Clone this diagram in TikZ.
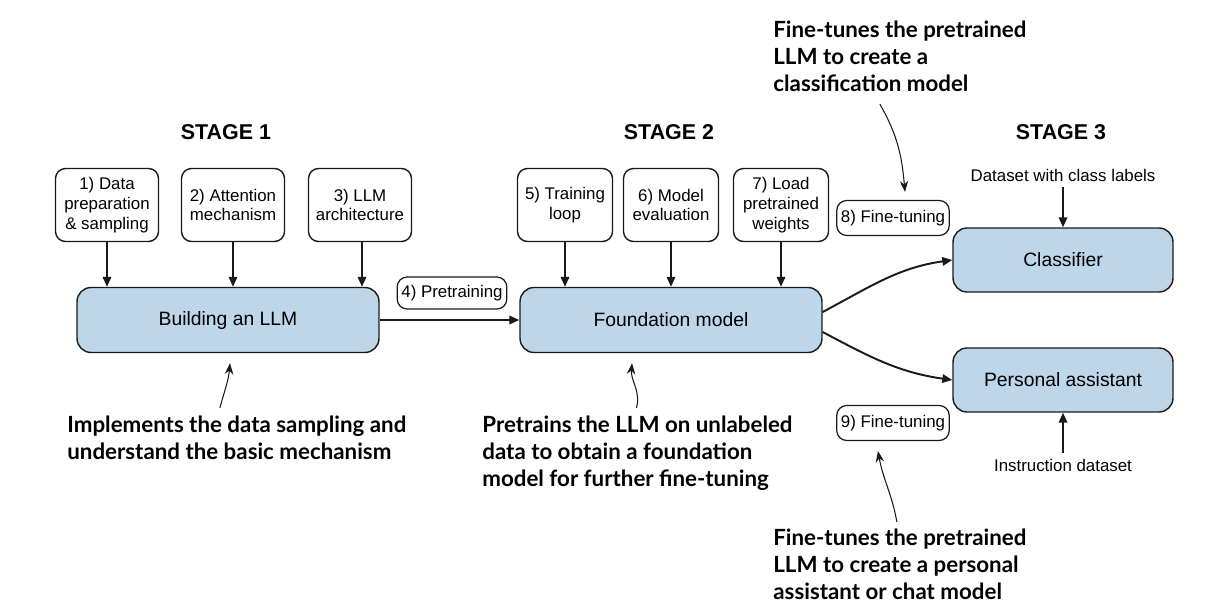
\documentclass[tikz,border=0pt]{standalone}
\usepackage{fontspec}
\setmainfont{Liberation Sans}
\newfontfamily\notefamily{Lato}
\usetikzlibrary{arrows.meta,positioning}
\definecolor{ink}{HTML}{1A1A1A}
\definecolor{modelfill}{HTML}{BED6E9}
\newcommand\boxfont{\fontsize{9.6}{11.2}\selectfont}
\newcommand\modelfont{\fontsize{11}{13}\selectfont}
\newcommand\notefont{\notefamily\bfseries\fontsize{12.7}{15.3}\selectfont}
\tikzset{
  stepcard/.style={draw=ink,fill=white,line width=0.8pt,rounded corners=0.2cm,
                   minimum width=2.06cm,minimum height=1.46cm,
                   align=center,inner sep=2pt,font=\boxfont},
  modelcard/.style={draw=ink,fill=modelfill,line width=0.8pt,rounded corners=0.28cm,
                    minimum width=6.04cm,minimum height=1.3cm,font=\modelfont},
  outcard/.style={modelcard,minimum width=4.4cm,minimum height=1.28cm},
  tagcard/.style={draw=ink,fill=white,line width=0.7pt,rounded corners=0.2cm,
                  inner xsep=2.4pt,minimum height=0.64cm,font=\boxfont},
  stagelabel/.style={font=\bfseries\fontsize{12.2}{14}\selectfont},
  datalabel/.style={font=\boxfont},
  note/.style={font=\notefont,align=left,anchor=north west,inner sep=0pt},
  flowarr/.style={-{Triangle[length=2mm,width=1.7mm]},line width=1.1pt,draw=ink},
  notearr/.style={-{Stealth[length=2.2mm,width=1.7mm]},line width=0.6pt,draw=ink}
}
\begin{document}
\begin{tikzpicture}[x=0.02cm,y=-0.02cm]
    \path[use as bounding box] (0,0) rectangle (1220,612);
    % stage headings
    \node[stagelabel] (stage1) at (226,132) {STAGE 1};
    \node[stagelabel] (stage2) at (669,132) {STAGE 2};
    \node[stagelabel] (stage3) at (1061,132) {STAGE 3};

    % stage 1
    \node[stepcard] (s1) at (107,205) {1) Data\\preparation\\\& sampling};
    \node[stepcard] (s2) at (233,205) {2) Attention\\mechanism};
    \node[stepcard] (s3) at (360,205) {3) LLM\\architecture};
    \node[modelcard] (build) at (228,320) {Building an LLM};
    \draw[flowarr] (s1.south) -- (s1.south |- build.north);
    \draw[flowarr] (s2.south) -- (s2.south |- build.north);
    \draw[flowarr] ([xshift=0.04cm]s3.south) -- ([xshift=0.04cm]s3.south |- build.north);

    % stage 2
    \node[modelcard] (found) at (671,320) {Foundation model};
    \node[tagcard] (pretrain) at (452,293) {4) Pretraining};
    \draw[flowarr] (build) -- (found);
    \node[stepcard,minimum width=1.9cm] (s5) at (565,205) {5) Training\\loop};
    \node[stepcard,minimum width=1.9cm] (s6) at (671,205) {6) Model\\evaluation};
    \node[stepcard,minimum width=1.9cm] (s7) at (781,205) {7) Load\\pretrained\\weights};
    \draw[flowarr] (s5.south) -- (s5.south |- found.north);
    \draw[flowarr] (s6.south) -- (s6.south |- found.north);
    \draw[flowarr] (s7.south) -- (s7.south |- found.north);

    % stage 3
    \node[outcard] (clf) at (1063,260) {Classifier};
    \node[outcard] (pa) at (1063,380) {Personal assistant};
    \node[tagcard,minimum height=0.7cm] (ft8) at (893,218) {8) Fine-tuning};
    \node[tagcard,minimum height=0.7cm] (ft9) at (893,423) {9) Fine-tuning};
    \draw[flowarr] ([yshift=0.16cm]found.east) to[out=28,in=188] (clf.west);
    \draw[flowarr] ([yshift=-0.24cm]found.east) to[out=-28,in=172] (pa.west);
    \node[datalabel] (dsclass) at (1063,175) {Dataset with class labels};
    \node[datalabel] (dsinstr) at (1063,465) {Instruction dataset};
    \draw[flowarr] (dsclass) -- (clf);
    \draw[flowarr] (dsinstr) -- (pa);

    % notes
    \node[note] (implnote) at (67,416) {Implements the data sampling and\\understand the basic mechanism};
    \node[note] (prenote) at (482,416) {Pretrains the LLM on unlabeled\\data to obtain a foundation\\model for further fine-tuning};
    \node[note] (clsnote) at (773,21) {Fine-tunes the pretrained\\LLM to create a\\classification model};
    \node[note] (panote) at (773,529) {Fine-tunes the pretrained\\LLM to create a personal\\assistant or chat model};
    \draw[notearr] ([xshift=-0.34cm,yshift=0.16cm]implnote.north) to[out=75,in=-95] ([xshift=0.04cm,yshift=-0.2cm]build.south);
    \draw[notearr] ([xshift=-0.02cm,yshift=0.16cm]prenote.north) to[out=75,in=-95] ([xshift=-0.78cm,yshift=-0.2cm]found.south);
    \draw[notearr] ([xshift=-0.4cm,yshift=-0.24cm]clsnote.south) to[out=-60,in=95] ([xshift=0.24cm,yshift=0.16cm]ft8.north);
    \draw[notearr] ([xshift=-0.06cm,yshift=0.14cm]panote.north) to[out=100,in=-80] ([xshift=-0.3cm,yshift=-0.2cm]ft9.south);
\end{tikzpicture}
\end{document}
